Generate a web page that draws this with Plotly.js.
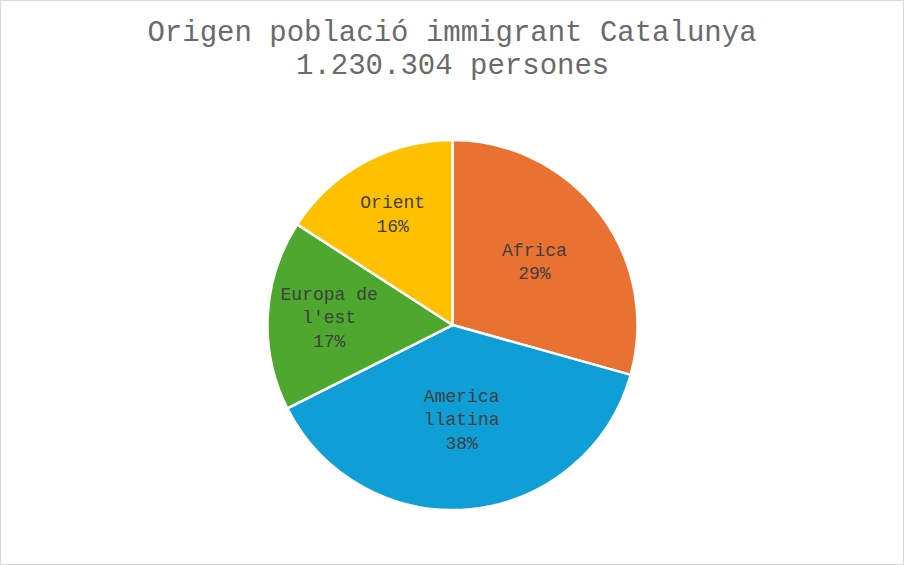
<!DOCTYPE html>
<html>
<head>
<meta charset="utf-8">
<script src="https://cdn.plot.ly/plotly-3.0.1.min.js"></script>
<style>
  body { margin: 0; background: #fff; }
  #wrap { position: relative; width: 904px; height: 565px; }
  #chart { width: 904px; height: 565px; }
  #frame { position: absolute; left: 0; top: 0; width: 902px; height: 563px;
           border: 1px solid #d9d9d9; pointer-events: none; }
</style>
</head>
<body>
<div id="wrap">
  <div id="chart"></div>
  <div id="frame"></div>
</div>
<script>
// regions of origin, clockwise from 12 o'clock
var regions = ['Africa', 'America<br>llatina', 'Europa de<br>l\'est', 'Orient'];
var persons = [361000, 470304, 204000, 195000]; // total 1.230.304
var colors = ['#E97132', '#0F9ED5', '#4EA72E', '#FFC000'];
var titleLines = ['Origen població immigrant Catalunya', '1.230.304 persones'];

var mono = 'Liberation Mono, Courier New, monospace';

var trace = {
  type: 'pie',
  labels: regions,
  values: persons,
  sort: false,
  direction: 'clockwise',
  rotation: 0,
  marker: { colors: colors, line: { color: '#ffffff', width: 2.5 } },
  texttemplate: '%{label}<br>%{percent:.0%}',
  textposition: 'inside',
  insidetextorientation: 'horizontal',
  textfont: { family: mono, size: 18, color: '#404040' },
  hoverinfo: 'label+value+percent',
  domain: { x: [0.2959, 0.7052], y: [0.0973, 0.7522] }
};

var layout = {
  width: 904,
  height: 565,
  margin: { l: 0, r: 0, t: 0, b: 0 },
  paper_bgcolor: '#ffffff',
  showlegend: false,
  title: {
    text: titleLines[0],
    font: { family: mono, size: 29, color: '#6a6a6a' },
    x: 0.5,
    xanchor: 'center',
    y: 0.945,
    yanchor: 'middle'
  },
  // second title line, set closer than Plotly's own line spacing
  annotations: [{
    text: titleLines[1],
    font: { family: mono, size: 29, color: '#6a6a6a' },
    xref: 'paper', yref: 'paper',
    x: 0.5, xanchor: 'center',
    y: 0.883, yanchor: 'middle',
    showarrow: false
  }]
};

Plotly.newPlot('chart', [trace], layout, { displayModeBar: false, staticPlot: true });
</script>
</body>
</html>
